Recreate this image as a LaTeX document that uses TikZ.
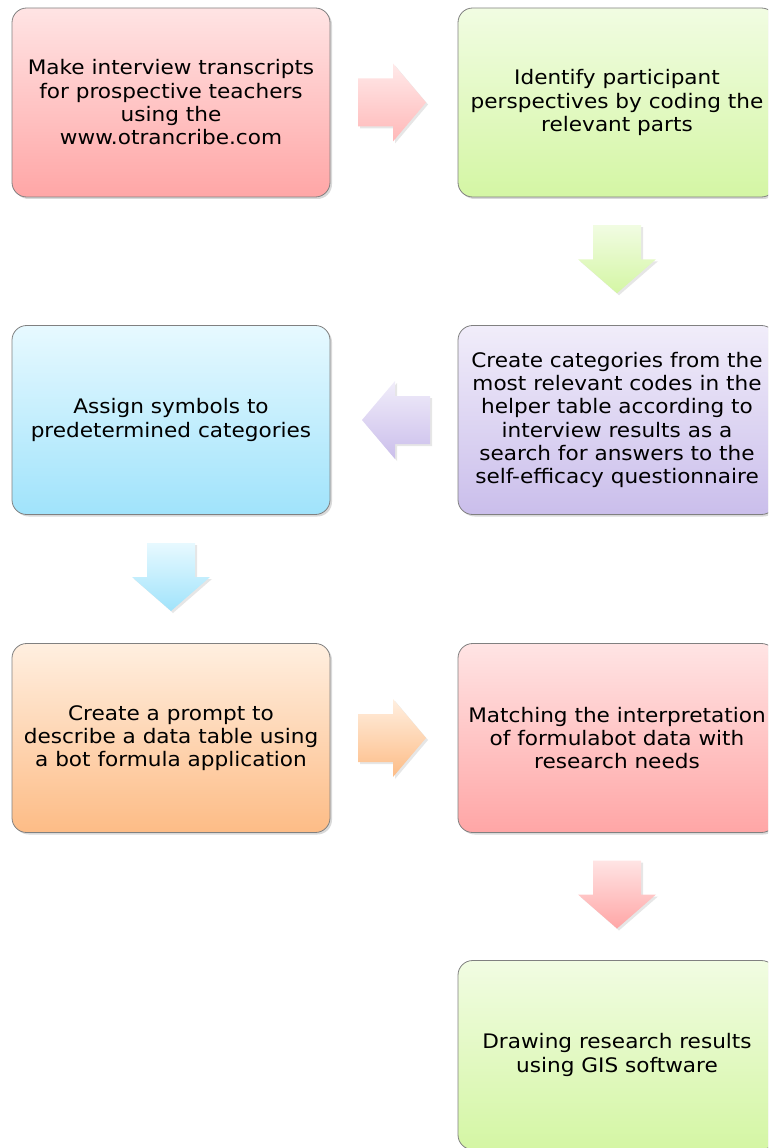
\documentclass[tikz,border=0pt]{standalone}
\usepackage{fontspec}
\setmainfont{DejaVu Sans}[FakeStretch=1.08]
\usepackage{tikz}
\usetikzlibrary{calc,shadows}

\definecolor{pinktop}{RGB}{255,228,228}
\definecolor{pinkbot}{RGB}{255,166,166}
\definecolor{greentop}{RGB}{241,252,226}
\definecolor{greenbot}{RGB}{212,246,164}
\definecolor{purpletop}{RGB}{241,237,250}
\definecolor{purplebot}{RGB}{202,190,235}
\definecolor{bluetop}{RGB}{231,249,255}
\definecolor{bluebot}{RGB}{160,227,251}
\definecolor{orangetop}{RGB}{255,239,224}
\definecolor{orangebot}{RGB}{253,188,134}

\tikzset{
  stepbox/.style={draw=gray,line width=0.6pt,rounded corners=11pt,
    minimum width=238.5pt,minimum height=141.75pt,align=center,
    font=\fontsize{15}{17.5}\selectfont,
    drop shadow={shadow xshift=1.5pt,shadow yshift=-1.5pt,opacity=0.3}},
  blockarrow/.style={drop shadow={shadow xshift=1.5pt,shadow yshift=-1.5pt,opacity=0.2}}
}

\begin{document}
\begin{tikzpicture}[x=0.75pt,y=-0.75pt]
      \useasboundingbox (0,0) rectangle (768,1148);
      \clip (0,0) rectangle (768,1148);
      \node[stepbox,top color=pinktop,bottom color=pinkbot] (transcripts) at (171,102.5) {Make interview transcripts\\for prospective teachers\\using the\\www.otrancribe.com};
      \node[stepbox,top color=greentop,bottom color=greenbot] (coding) at (617,102.5) {Identify participant\\perspectives by coding the\\relevant parts};
      \node[stepbox,top color=purpletop,bottom color=purplebot] (categories) at (617,420) {Create categories from the\\most relevant codes in the\\helper table according to\\interview results as a\\search for answers to the\\self-efficacy questionnaire};
      \node[stepbox,top color=bluetop,bottom color=bluebot] (symbols) at (171,420) {Assign symbols to\\predetermined categories};
      \node[stepbox,top color=orangetop,bottom color=orangebot] (prompt) at (171,738) {Create a prompt to\\describe a data table using\\a bot formula application};
      \node[stepbox,top color=pinktop,bottom color=pinkbot] (matching) at (617,738) {Matching the interpretation\\of formulabot data with\\research needs};
      \node[stepbox,top color=greentop,bottom color=greenbot] (gis) at (617,1055) {Drawing research results\\using GIS software};
      \coordinate (a1) at ($(transcripts.east)!0.5!(coding.west)+(-2,0)$);
      \coordinate (a2) at ($(coding.south)!0.5!(categories.north)+(0,-2)$);
      \coordinate (a3) at ($(categories.west)!0.5!(symbols.east)+(2,0)$);
      \coordinate (a4) at ($(symbols.south)!0.5!(prompt.north)+(0,-2)$);
      \coordinate (a5) at ($(prompt.east)!0.5!(matching.west)+(-2,0)$);
      \coordinate (a6) at ($(matching.south)!0.5!(gis.north)+(0,-2)$);
      \shade[blockarrow,top color=pinktop!80!white,bottom color=pinkbot!80!white] ($(a1)+(-34,-24)$) -- ++(35,0) -- ++(0,-15) -- ++(33,39) -- ++(-33,39) -- ++(0,-15) -- ++(-35,0) -- cycle;
      \shade[blockarrow,top color=greentop,bottom color=greenbot] ($(a2)+(-24,-34)$) -- ++(48,0) -- ++(0,34) -- ++(15,0) -- ++(-39,34) -- ++(-39,-34) -- ++(15,0) -- cycle;
      \shade[blockarrow,top color=purpletop,bottom color=purplebot] ($(a3)+(34,-24)$) -- ++(-35,0) -- ++(0,-15) -- ++(-33,39) -- ++(33,39) -- ++(0,-15) -- ++(35,0) -- cycle;
      \shade[blockarrow,top color=bluetop,bottom color=bluebot] ($(a4)+(-24,-34)$) -- ++(48,0) -- ++(0,34) -- ++(15,0) -- ++(-39,34) -- ++(-39,-34) -- ++(15,0) -- cycle;
      \shade[blockarrow,top color=orangetop,bottom color=orangebot] ($(a5)+(-34,-24)$) -- ++(35,0) -- ++(0,-15) -- ++(33,39) -- ++(-33,39) -- ++(0,-15) -- ++(-35,0) -- cycle;
      \shade[blockarrow,top color=pinktop,bottom color=pinkbot] ($(a6)+(-24,-34)$) -- ++(48,0) -- ++(0,34) -- ++(15,0) -- ++(-39,34) -- ++(-39,-34) -- ++(15,0) -- cycle;
    \end{tikzpicture}
\end{document}
